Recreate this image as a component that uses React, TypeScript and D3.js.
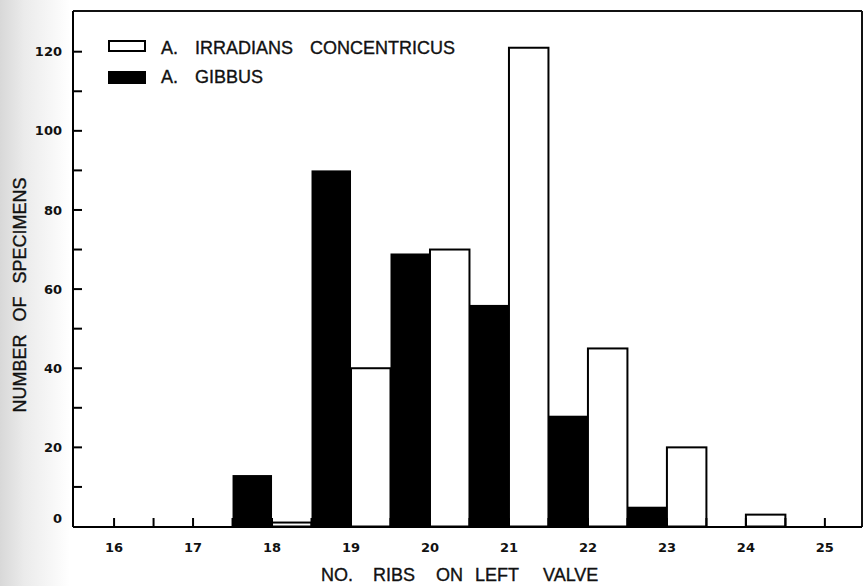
import React from "react";
import * as d3 from "d3";

// rib counts (x categories) and specimen counts per species
const ribs = [18, 19, 20, 21, 22, 23, 24];
const gibbus = [13, 90, 69, 56, 28, 5, 0];
const irradians = [1, 40, 70, 121, 45, 20, 3];
const xTickLabels = [16, 17, 18, 19, 20, 21, 22, 23, 24, 25];
const yTickLabels = [0, 20, 40, 60, 80, 100, 120];
const yMinorTicks = [10, 30, 50, 70, 90, 110];

const W = 863;
const H = 586;
const FONT = "'Liberation Sans', Arial, sans-serif";
const TICK_FONT = "'DejaVu Sans', sans-serif";

const App = () => {
  const left = 73;
  const right = 862;
  const top = 11;
  const bottom = 527;

  const x = d3.scaleLinear().domain([15.48, 25.47]).range([left, right]);
  const y = d3.scaleLinear().domain([0, 120]).range([526.5, 51.7]);

  const halfTicks = d3.range(16, 25.01, 0.5);

  const label = { fontFamily: FONT, fontSize: 18, fill: "#111", stroke: "#111", strokeWidth: 0.35 };

  return (
    <svg
      width={W}
      height={H}
      style={{ position: "absolute", left: 0, top: 0, background: "#fff" }}
    >
      <defs>
        <linearGradient id="scan" x1="0" x2="1" y1="0" y2="0">
          <stop offset="0" stopColor="#d8d8d8" />
          <stop offset="0.35" stopColor="#ebebeb" />
          <stop offset="1" stopColor="#ffffff" />
        </linearGradient>
      </defs>
      <rect x={0} y={0} width={70} height={H} fill="url(#scan)" />

      {/* bars */}
      {ribs.map((r, i) => (
        <g key={r}>
          {gibbus[i] > 0 && (
            <rect
              x={x(r - 0.5)}
              y={y(gibbus[i])}
              width={x(r) - x(r - 0.5)}
              height={y(0) - y(gibbus[i])}
              fill="#000"
            />
          )}
          {irradians[i] > 0 && (
            <rect
              x={x(r)}
              y={y(irradians[i])}
              width={x(r + 0.5) - x(r)}
              height={y(0) - y(irradians[i])}
              fill="#fff"
              stroke="#000"
              strokeWidth={2}
            />
          )}
        </g>
      ))}

      {/* frame */}
      <line x1={left} x2={right} y1={top} y2={top} stroke="#111" strokeWidth={2} />
      <line x1={right} x2={right} y1={top} y2={bottom} stroke="#111" strokeWidth={2} />
      <line x1={left} x2={left} y1={top} y2={bottom} stroke="#000" strokeWidth={2} />
      <line x1={left} x2={right} y1={bottom} y2={bottom} stroke="#000" strokeWidth={2} />

      {/* y ticks */}
      {yTickLabels.map((v) => (
        <g key={"y" + v}>
          {v > 0 && (
            <line x1={left} x2={left + 9} y1={y(v)} y2={y(v)} stroke="#000" strokeWidth={2} />
          )}
          <text
            x={62}
            y={y(v) - (v === 0 ? 8 : 0)}
            dy="0.35em"
            textAnchor="end"
            fontFamily={TICK_FONT}
            fontWeight="bold"
            fontSize={13}
            fill="#111"
          >
            {v}
          </text>
        </g>
      ))}
      {yMinorTicks.map((v) => (
        <line key={"m" + v} x1={left} x2={left + 9} y1={y(v)} y2={y(v)} stroke="#000" strokeWidth={2} />
      ))}

      {/* x ticks */}
      {halfTicks.map((t) => (
        <line key={"t" + t} x1={x(t)} x2={x(t)} y1={bottom} y2={bottom - 9} stroke="#000" strokeWidth={2} />
      ))}
      {xTickLabels.map((v) => (
        <text
          key={"x" + v}
          x={x(v)}
          y={552}
          textAnchor="middle"
          fontFamily={TICK_FONT}
          fontWeight="bold"
          fontSize={13}
          fill="#111"
        >
          {v}
        </text>
      ))}

      {/* legend */}
      <rect x={109} y={41} width={36} height={10} fill="#fff" stroke="#000" strokeWidth={2} />
      <rect x={108} y={71} width={38} height={13} fill="#000" />
      <text y={54} {...label}>
        <tspan x={161}>A.</tspan>
        <tspan x={195}>IRRADIANS</tspan>
        <tspan x={310}>CONCENTRICUS</tspan>
      </text>
      <text y={83} {...label}>
        <tspan x={161}>A.</tspan>
        <tspan x={195}>GIBBUS</tspan>
      </text>

      {/* axis titles */}
      <text y={581} {...label}>
        <tspan x={321}>NO.</tspan>
        <tspan x={373}>RIBS</tspan>
        <tspan x={436}>ON</tspan>
        <tspan x={475}>LEFT</tspan>
        <tspan x={543}>VALVE</tspan>
      </text>
      <text
        transform="translate(26,295) rotate(-90)"
        textAnchor="middle"
        wordSpacing={8}
        {...label}
      >
        NUMBER OF SPECIMENS
      </text>
    </svg>
  );
};

export default App;
